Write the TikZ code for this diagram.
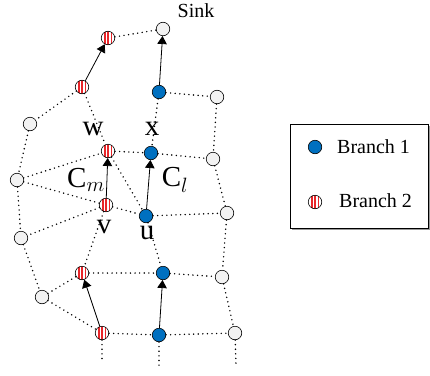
\documentclass[tikz,border=0pt]{standalone}
\usepackage{fontspec}
\setmainfont{Liberation Serif}
\usetikzlibrary{arrows.meta}
\definecolor{bluefill}{HTML}{0070C0}
\definecolor{redstripe}{HTML}{E8262A}
\tikzset{
  nd/.style={circle,draw=black,line width=0.6pt,minimum size=13.5pt,inner sep=0pt},
  wnode/.style={nd,fill=black!5},
  bnode/.style={nd,fill=bluefill},
  rnode/.style={nd,fill=white,path picture={
      \foreach \dx in {-3.3,0,3.3}{
        \fill[redstripe] ([xshift=\dx pt-0.8pt]path picture bounding box.south) rectangle ([xshift=\dx pt+0.8pt]path picture bounding box.north);
      }}},
  dotl/.style={line width=1.6pt,dash pattern=on 0pt off 4.6pt,line cap=round},
  arr/.style={line width=0.8pt,-{Triangle[length=8pt,width=9.5pt]}},
  lab/.style={font=\fontsize{29}{29}\selectfont,inner sep=0pt},
  txt/.style={font=\fontsize{20}{22}\selectfont,inner sep=0pt}
}
\begin{document}
\begin{tikzpicture}[x=1pt,y=-1pt]
\useasboundingbox (0,0) rectangle (430,375);
% nodes
\node[wnode] (sink) at (163,29) {};
\node[rnode] (r1) at (108,38) {};
\node[rnode] (r2) at (82,87) {};
\node[bnode] (b1) at (159,92) {};
\node[wnode] (wr1) at (217,97) {};
\node[wnode] (wl1) at (30,124) {};
\node[rnode] (rw) at (108,151) {};
\node[bnode] (bx) at (151,153) {};
\node[wnode] (wr2) at (213,159) {};
\node[wnode] (wl2) at (17,180) {};
\node[rnode] (rv) at (106,205) {};
\node[bnode] (bu) at (146,216) {};
\node[wnode] (wr3) at (227,213) {};
\node[wnode] (wl3) at (21,238) {};
\node[rnode] (r3) at (82,273) {};
\node[bnode] (b3) at (163,273) {};
\node[wnode] (wr4) at (222,277) {};
\node[wnode] (wl4) at (42,297) {};
\node[rnode] (r4) at (102,333) {};
\node[bnode] (b4) at (159,335) {};
\node[wnode] (wr5) at (235,333) {};
\coordinate (e1) at (102,359);
\coordinate (e2) at (159,367);
\coordinate (e3) at (236,364);
% dotted links
\foreach \a/\b in {r1/sink, r2/wl1, r2/rw, b1/bx, b1/wr1, wr1/wr2, wl1/wl2, wl2/rw, wl2/rv, wl2/wl3,
  rw/bx, rw/bu, bx/wr2, wr2/wr3, rv/bu, bu/wr3, rv/wl3, rv/r3, bu/b3, wr3/wr4, wl3/wl4,
  r3/b3, b3/wr4, wl4/r3, wl4/r4, r4/b4, b4/wr5, wr4/wr5}
  \draw[dotl] (\a) -- (\b);
\draw[dotl] (r4) -- (e1);
\draw[dotl] (b4) -- (e2);
\draw[dotl] (wr5) -- (e3);
% arrows
\draw[arr] (r2) -- (r1);
\draw[arr] (b1) -- (sink);
\draw[arr] (rv) -- (rw);
\draw[arr] (bu) -- (bx);
\draw[arr] (r4) -- (r3);
\draw[arr] (b4) -- (b3);
% labels
\node[txt] (sinklab) at (196,11) {Sink};
\node[lab] (lw) at (93,129) {w};
\node[lab] (lx) at (152,129) {x};
\node[lab] (lv) at (104,227) {v};
\node[lab] (lu) at (147,233) {u};
\node[lab] (lcm) at (86,180) {C$_m$};
\node[lab] (lcl) at (175,180) {C$_l$};
% legend
\fill[black!40] (291.5,125.5) rectangle (429.5,229.5);
\draw[line width=0.7pt,fill=white] (290,124) rectangle (428,228);
\node[bnode] (lb) at (315,147) {};
\node[rnode] (lr) at (315,202) {};
\node[txt,anchor=west] (lbt) at (337,147) {Branch 1};
\node[txt,anchor=west] (lrt) at (339,201) {Branch 2};
\end{tikzpicture}
\end{document}
